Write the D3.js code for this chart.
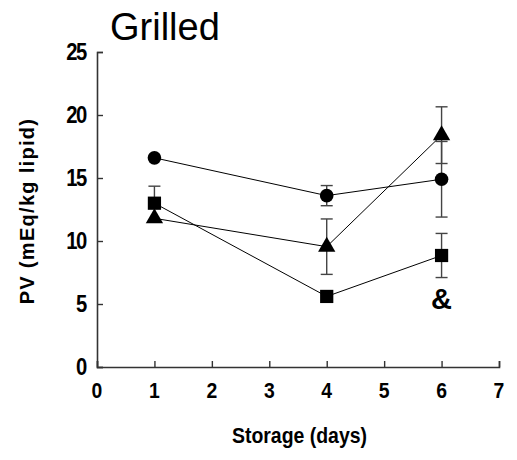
<!DOCTYPE html>
<html>
<head>
<meta charset="utf-8">
<script src="https://cdn.jsdelivr.net/npm/d3@7"></script>
<style>
  body { margin: 0; background: #fff; }
  text { font-family: "Liberation Sans", Arial, sans-serif; }
</style>
</head>
<body>
<svg width="517" height="460"></svg>
<script>
  // storage days and PV series
  const days = [1, 4, 6];
  const circleVals = [16.6, 13.6, 14.9];
  const circleErr = [0, 0.8, 3.0];
  const squareVals = [13.0, 5.6, 8.85];
  const squareErr = [1.35, 0, 1.75];
  const triangleVals = [11.8, 9.55, 18.4];
  const triangleErr = [0, 2.2, 2.25];
  const xTicks = [0, 1, 2, 3, 4, 5, 6, 7];
  const yTicks = [0, 5, 10, 15, 20, 25];

  const svg = d3.select('svg');

  const x = d3.scaleLinear().domain([0, 7]).range([97, 499]);
  const y = d3.scaleLinear().domain([0, 25]).range([367, 52]);

  // axes
  const xAxis = svg.append('g')
    .attr('transform', `translate(0,${y(0)})`)
    .call(d3.axisTop(x).tickValues(xTicks).tickSize(6).tickFormat(''));
  const yAxis = svg.append('g')
    .attr('transform', `translate(${x(0)},0)`)
    .call(d3.axisRight(y).tickValues(yTicks).tickSize(6).tickFormat(''));
  [xAxis, yAxis].forEach(a => {
    a.select('.domain').attr('stroke', '#333').attr('stroke-width', 1.6);
    a.selectAll('.tick line').attr('stroke', '#333').attr('stroke-width', 1.4);
  });

  svg.append('g').selectAll('text')
    .data(xTicks).enter().append('text')
    .attr('transform', d => `translate(${x(d)},398) scale(0.88,1)`)
    .attr('text-anchor', 'middle')
    .attr('font-size', 22)
    .attr('font-weight', 'bold')
    .text(d => d);

  svg.append('g').selectAll('text')
    .data(yTicks).enter().append('text')
    .attr('transform', d => `translate(86,${y(d) + 8}) scale(0.88,1)`)
    .attr('text-anchor', 'end')
    .attr('font-size', 23)
    .attr('font-weight', 'bold')
    .attr('letter-spacing', -1.5)
    .text(d => d);

  svg.append('text')
    .attr('x', 110).attr('y', 40)
    .attr('font-size', 38)
    .text('Grilled');

  svg.append('text')
    .attr('transform', 'translate(34,211) rotate(-90)')
    .attr('text-anchor', 'middle')
    .attr('font-size', 20)
    .attr('font-weight', 'bold')
    .attr('letter-spacing', 1.3)
    .text('PV (mEq/kg lipid)');

  svg.append('text')
    .attr('x', 232).attr('y', 443)
    .attr('font-size', 22)
    .attr('font-weight', 'bold')
    .attr('textLength', 135)
    .attr('lengthAdjust', 'spacingAndGlyphs')
    .text('Storage (days)');

  const series = [
    { vals: circleVals, err: circleErr, sym: d3.symbolCircle, size: 145 },
    { vals: squareVals, err: squareErr, sym: d3.symbolSquare, size: 175 },
    { vals: triangleVals, err: triangleErr, sym: d3.symbolTriangle, size: 130 }
  ];

  const line = d3.line().x(d => x(d[0])).y(d => y(d[1]));

  series.forEach(s => {
    const pts = days.map((d, i) => [d, s.vals[i], s.err[i]]);
    svg.append('path')
      .attr('d', line(pts))
      .attr('fill', 'none')
      .attr('stroke', '#000')
      .attr('stroke-width', 1);

    const eb = svg.append('g').attr('stroke', '#444').attr('stroke-width', 1.4);
    pts.filter(p => p[2] > 0).forEach(p => {
      eb.append('line')
        .attr('x1', x(p[0])).attr('x2', x(p[0]))
        .attr('y1', y(p[1] - p[2])).attr('y2', y(p[1] + p[2]));
      [p[1] - p[2], p[1] + p[2]].forEach(v => {
        eb.append('line')
          .attr('x1', x(p[0]) - 6).attr('x2', x(p[0]) + 6)
          .attr('y1', y(v)).attr('y2', y(v));
      });
    });

    svg.append('g').selectAll('path')
      .data(pts).enter().append('path')
      .attr('transform', p => `translate(${x(p[0])},${y(p[1])})`)
      .attr('d', d3.symbol().type(s.sym).size(s.size))
      .attr('fill', '#000');
  });

  svg.append('text')
    .attr('x', x(6)).attr('y', 309)
    .attr('text-anchor', 'middle')
    .attr('font-size', 29)
    .attr('font-weight', 'bold')
    .text('&');
</script>
</body>
</html>
